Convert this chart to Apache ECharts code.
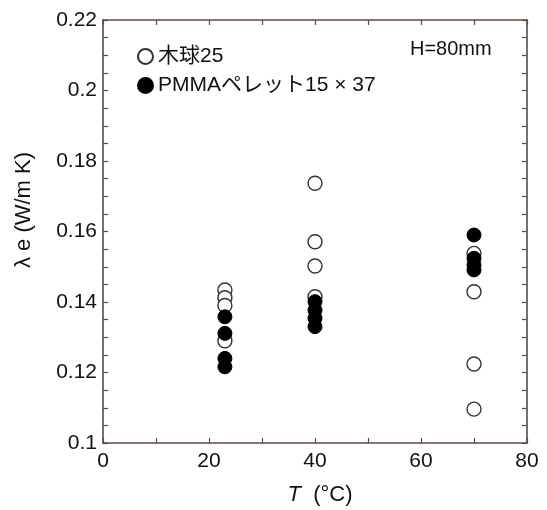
<!DOCTYPE html>
<html>
<head>
<meta charset="utf-8">
<script src="https://cdn.jsdelivr.net/npm/echarts@6/dist/echarts.min.js"></script>
<style>html,body{margin:0;padding:0;background:#fff}#c{width:547px;height:510px}</style>
</head>
<body>
<div id="c"></div>
<script>
const seriesNames = ['木球25', 'PMMAペレット15×37'];
const woodT = [23, 23, 23, 23, 40, 40, 40, 40, 70, 70, 70, 70];
const woodL = [0.1434, 0.1412, 0.1390, 0.1290, 0.1737, 0.1571, 0.1502, 0.1415, 0.1538, 0.1429, 0.1224, 0.1096];
const pmmaT = [23, 23, 23, 23, 40, 40, 40, 40, 70, 70, 70, 70];
const pmmaL = [0.1358, 0.1311, 0.1240, 0.1216, 0.1401, 0.1377, 0.1354, 0.1330, 0.1590, 0.1524, 0.1505, 0.1491];
const annotation = 'H=80mm';

const FONT = '"Liberation Sans", Arial, "Noto Sans CJK JP", sans-serif';
const AX = '#5a4b45';
const chart = echarts.init(document.getElementById('c'), null, {renderer: 'canvas'});
const grid = {left: 103, right: 20, top: 20, bottom: 67};
const tickStyle = {show: true, inside: true, length: 5, lineStyle: {color: AX, width: 1.2}};
const lineStyle = {show: true, onZero: false, lineStyle: {color: AX, width: 1.6}};
function xa(pos, labels) {
  return {type: 'value', position: pos, min: 0, max: 80, interval: 10,
    axisLine: lineStyle, axisTick: tickStyle, splitLine: {show: false},
    axisLabel: {show: labels, margin: 8, color: '#111', fontSize: 21, fontFamily: FONT,
      formatter: v => (Math.round(v) % 20 === 0 ? String(Math.round(v)) : '')}};
}
function ya(pos, labels) {
  return {type: 'value', position: pos, min: 0.1, max: 0.22, interval: 0.005,
    axisLine: lineStyle, axisTick: tickStyle, splitLine: {show: false},
    axisLabel: {show: labels, margin: 6, color: '#111', fontSize: 21, fontFamily: FONT,
      formatter: v => { const m = Math.round(v * 1000); return m % 20 === 0 ? String(m / 1000) : ''; }}};
}
const pts = (xs, ys) => xs.map((x, i) => [x, ys[i]]);
chart.setOption({
  animation: false,
  grid: grid,
  xAxis: [xa('bottom', true), xa('top', false)],
  yAxis: [ya('left', true), ya('right', false)],
  legend: {
    orient: 'vertical', left: 132, top: 41, itemWidth: 15, itemHeight: 15, itemGap: 8,
    textStyle: {fontSize: 21, color: '#111', fontFamily: FONT, padding: [0, 0, 0, 0]},
    formatter: n => n.replace('×', ' × '),
    data: [{name: seriesNames[0], icon: 'circle'}, {name: seriesNames[1], icon: 'circle'}]
  },
  series: [
    {name: seriesNames[0], type: 'scatter', symbol: 'circle', symbolSize: 14,
      itemStyle: {color: '#fff', borderColor: '#333', borderWidth: 1.4, opacity: 1},
      data: pts(woodT, woodL), z: 2},
    {name: seriesNames[1], type: 'scatter', symbol: 'circle', symbolSize: 14,
      itemStyle: {color: '#000', borderColor: '#000', borderWidth: 1, opacity: 1},
      data: pts(pmmaT, pmmaL), z: 3}
  ],
  graphic: [
    {type: 'text', left: 410, top: 39, style: {text: annotation, font: '20px ' + FONT, fill: '#111'}},
    {type: 'text', x: 24, y: 210, rotation: Math.PI / 2,
      style: {text: 'λ e (W/m K)', font: '22px ' + FONT, fill: '#111', align: 'center', verticalAlign: 'middle'}},
    {type: 'text', x: 320, y: 495,
      style: {rich: {i: {font: 'italic 22px ' + FONT, fill: '#111'}, n: {font: '22px ' + FONT, fill: '#111'}},
        text: '{i|T}{n|  (°C)}', align: 'center', verticalAlign: 'middle'}}
  ]
});
</script>
</body>
</html>
